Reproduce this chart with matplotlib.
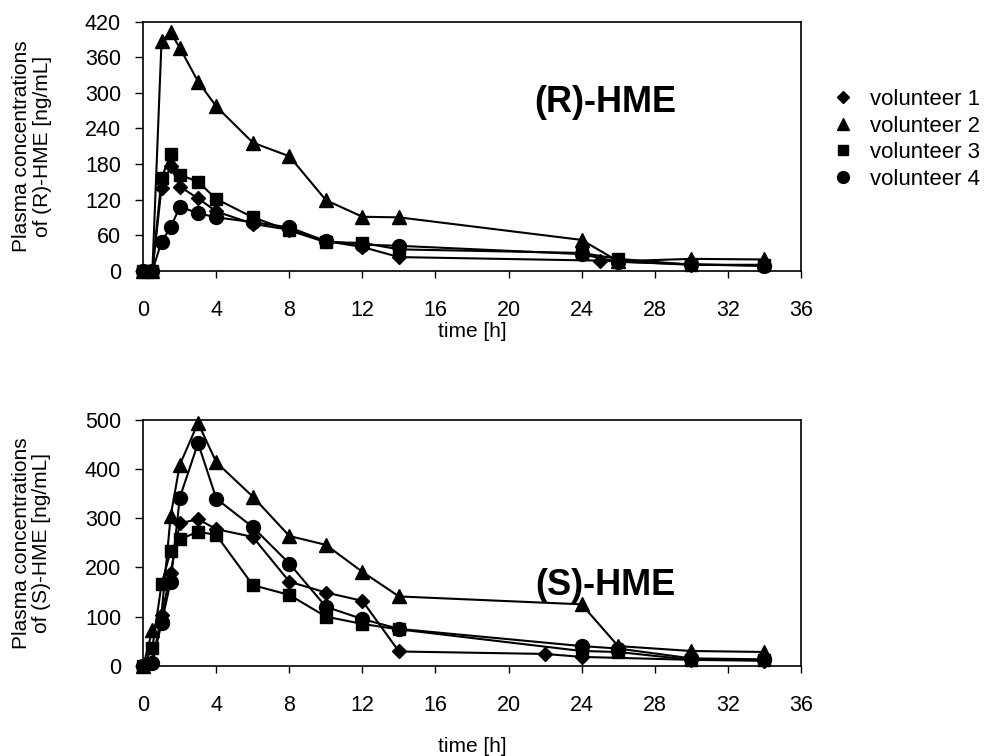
import matplotlib
matplotlib.use("Agg")
import matplotlib.pyplot as plt
from matplotlib.lines import Line2D

plt.rcParams["font.family"] = ["Liberation Sans", "DejaVu Sans"]

# ── (R)-HME plasma concentrations [ng/mL] ─────────────────────────────────
r_t1 = [0, 0.5, 1, 1.5, 2, 3, 4, 6, 8, 10, 12, 14, 25, 30, 34]
r_v1 = [0, 0, 140, 176, 142, 122, 100, 79, 69, 50, 40, 23, 17, 10, 9]
r_t = [0, 0.5, 1, 1.5, 2, 3, 4, 6, 8, 10, 12, 14, 24, 26, 30, 34]
r_v2 = [0, 0, 387, 402, 376, 319, 277, 216, 193, 119, 91, 90, 52, 16, 20, 19]
r_v3 = [0, 0, 156, 197, 162, 150, 121, 90, 68, 48, 47, 36, 30, 20, 10, 10]
r_v4 = [0, 0, 49, 73, 108, 97, 90, 82, 73, 50, 44, 42, 28, 15, 11, 8]

# ── (S)-HME plasma concentrations [ng/mL] ─────────────────────────────────
s_t1 = [0, 0.5, 1, 1.5, 2, 3, 4, 6, 8, 10, 12, 14, 22, 24, 30, 34]
s_v1 = [0, 8, 103, 188, 290, 298, 278, 262, 171, 149, 132, 29, 24, 18, 12, 10]
s_t = [0, 0.5, 1, 1.5, 2, 3, 4, 6, 8, 10, 12, 14, 24, 26, 30, 34]
s_v2 = [0, 73, 105, 305, 409, 494, 414, 344, 264, 246, 191, 141, 125, 40, 30, 28]
s_v3 = [0, 37, 166, 234, 257, 273, 266, 164, 144, 100, 85, 74, 30, 28, 12, 12]
s_v4 = [0, 5, 87, 171, 342, 453, 340, 282, 208, 120, 95, 75, 40, 35, 15, 13]

labels = ["volunteer 1", "volunteer 2", "volunteer 3", "volunteer 4"]
markers = ["D", "^", "s", "o"]
msizes = [7, 10, 9, 10]

x_ticks = list(range(0, 37, 4))
r_yticks = list(range(0, 421, 60))
s_yticks = list(range(0, 501, 100))

fig = plt.figure(figsize=(9.86, 7.56), dpi=100)
ax_r = fig.add_axes([0.1453, 0.6419, 0.6668, 0.3294])
ax_s = fig.add_axes([0.1453, 0.1194, 0.6668, 0.3250])


def draw(ax, series, yticks, ylabel, title, title_y, xlabelpad):
    for (t, v), m, ms in zip(series, markers, msizes):
        ax.plot(t, v, color="black", lw=1.5, marker=m, ms=ms,
                mfc="black", mec="black", clip_on=False, zorder=3)
    ax.set_xlim(0, 36)
    ax.set_ylim(yticks[0], yticks[-1])
    ax.set_xticks(x_ticks)
    ax.set_yticks(yticks)
    ax.tick_params(axis="x", direction="out", length=5, width=1, pad=16,
                   labelsize=15.5)
    ax.tick_params(axis="y", direction="out", length=6, width=1, pad=10,
                   labelsize=15.5)
    for sp in ax.spines.values():
        sp.set_linewidth(1.2)
    ax.set_xlabel("time [h]", fontsize=15, labelpad=xlabelpad)
    ax.set_ylabel(ylabel, fontsize=15, labelpad=24, linespacing=1.1)
    ax.text(25.3, title_y, title, fontsize=26, fontweight="bold",
            ha="center", va="center")


draw(ax_r, [(r_t1, r_v1), (r_t, r_v2), (r_t, r_v3), (r_t, r_v4)], r_yticks,
     "Plasma concentrations\nof (R)-HME [ng/mL]", "(R)-HME", 283, 1)
draw(ax_s, [(s_t1, s_v1), (s_t, s_v2), (s_t, s_v3), (s_t, s_v4)], s_yticks,
     "Plasma concentrations\nof (S)-HME [ng/mL]", "(S)-HME", 164, 15)

handles = [Line2D([], [], ls="none", marker=m, ms=ms * 0.85, color="black")
           for m, ms in zip(markers, msizes)]
fig.legend(handles, labels, loc="upper left", bbox_to_anchor=(0.835, 0.897),
           frameon=False, fontsize=16, handlelength=0.8, handletextpad=0.8,
           labelspacing=0.25, borderpad=0)

fig.savefig("out.png", dpi=100)
